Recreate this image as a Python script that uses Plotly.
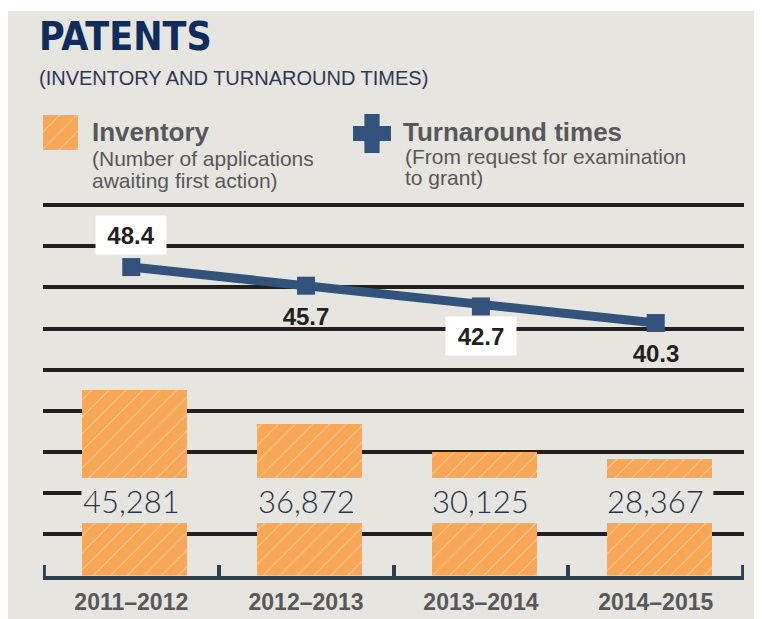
import plotly.graph_objects as go

# chart data
years = ["2011–2012", "2012–2013", "2013–2014", "2014–2015"]
inventory = [45281, 36872, 30125, 28367]
turnaround = [48.4, 45.7, 42.7, 40.3]
label_boxed = [True, False, True, False]
label_above = [True, False, False, False]

W, H = 762, 619
OFF = 8  # page margin around the plot div
BG = "#e6e5e0"
ORANGE = "#f8a756"
HATCH = "#fbc792"
NAVY = "#33537d"
AXIS = "#2b3e54"
GRID = "#231f20"
GREY = "#58585a"
TITLE = "#0f2d5c"
SANS = "Liberation Sans, Arial, sans-serif"
COND = "DejaVu Sans Condensed, Liberation Sans, sans-serif"


def fx(p):
    return (p - OFF) / W


def fy(p):
    return 1 - (p - OFF) / H


pattern = dict(shape="/", bgcolor=ORANGE, fgcolor=HATCH, size=12, solidity=0.1, fillmode="replace")

fig = go.Figure()
fig.add_bar(x=years, y=inventory, width=0.6, offset=-0.28,
            marker=dict(color=ORANGE, line_width=0, pattern=pattern),
            showlegend=False, hoverinfo="skip")
fig.add_scatter(x=years, y=turnaround, yaxis="y2", mode="lines+markers",
                line=dict(color=NAVY, width=9), marker=dict(symbol="square", size=18, color=NAVY),
                showlegend=False, hoverinfo="skip")

# legend swatches on their own small axes
fig.add_bar(x=[0], y=[1], width=1, xaxis="x3", yaxis="y3", showlegend=False, hoverinfo="skip",
            marker=dict(color=ORANGE, line_width=0, pattern=pattern))
fig.add_scatter(x=[0], y=[0], xaxis="x4", yaxis="y4", mode="markers", showlegend=False, hoverinfo="skip",
                marker=dict(symbol="cross", size=38, color=NAVY))

ymax = 95000
y_bot, y_top = 575.5, 184.5
per = (y_bot - y_top) / ymax


def band_val(p):
    return (y_bot - p) / per


shapes = [
    dict(type="rect", xref="paper", yref="paper", x0=0, x1=1, y0=0, y1=fy(11),
         fillcolor=BG, line_width=0, layer="below"),
    dict(type="rect", xref="x", yref="y", x0=-0.285, x1=3.33, y0=band_val(523), y1=band_val(478),
         fillcolor=BG, line_width=0, layer="above"),
]
# end ticks of the category axis
for xb in (-0.5, 3.5):
    shapes.append(dict(type="line", xref="x", yref="paper", x0=xb, x1=xb, y0=fy(577), y1=fy(565),
                       line=dict(color=AXIS, width=4), layer="above"))


def text(t, x, y, size, color, family=SANS, anchor="left"):
    return dict(text=t, x=fx(x), y=fy(y), xref="paper", yref="paper", xanchor=anchor,
                yanchor="middle", showarrow=False, font=dict(family=family, size=size, color=color))


annotations = [
    text("<b>PATENTS</b>", 37, 36, 39, TITLE, family=COND),
    text("(INVENTORY AND TURNAROUND TIMES)", 37, 78, 20, "#2f3754"),
    text("<b>Inventory</b>", 90, 132, 26, GREY),
    text("(Number of applications", 90, 158, 21, GREY),
    text("awaiting first action)", 90, 180, 21, GREY),
    text("<b>Turnaround times</b>", 401, 132, 26, GREY),
    text("(From request for examination", 403, 157, 21, GREY),
    text("to grant)", 403, 178, 21, GREY),
]

for yr, v in zip(years, inventory):
    annotations.append(dict(text=f"{v:,}", x=yr, y=band_val(501), xref="x", yref="y", showarrow=False,
                            font=dict(family="Lato, sans-serif", size=31, color="#26354a", weight=300)))

for yr, v, boxed, above in zip(years, turnaround, label_boxed, label_above):
    annotations.append(dict(text=f"<b>{v}</b>", x=yr, y=v, xref="x", yref="y2", showarrow=False,
                            yshift=32 if above else -30, width=66, height=34, borderpad=2,
                            bgcolor="white" if boxed else "rgba(0,0,0,0)",
                            font=dict(family=SANS, size=24, color=GRID)))

fig.update_layout(
    width=W, height=H,
    margin=dict(l=0, r=0, t=0, b=0),
    paper_bgcolor="white",
    plot_bgcolor="rgba(0,0,0,0)",
    showlegend=False,
    bargap=0,
    shapes=shapes,
    annotations=annotations,
    xaxis=dict(type="category", domain=[fx(43), fx(744)], range=[-0.505, 3.505], anchor="y",
               showline=True, linecolor=AXIS, linewidth=4, ticks="inside", tickson="boundaries",
               ticklen=11, tickwidth=4, tickcolor=AXIS, showgrid=False, fixedrange=True,
               ticklabelstandoff=3,
               tickfont=dict(family=SANS, size=23, color=GREY, weight="bold")),
    yaxis=dict(domain=[fy(y_bot), fy(y_top)], range=[0, ymax], tick0=0, dtick=10000,
               showgrid=True, gridcolor=GRID, gridwidth=4, zeroline=False, showline=False,
               showticklabels=False, ticks=""),
    yaxis2=dict(overlaying="y", range=[3.76, 60.35], visible=False),
    xaxis3=dict(domain=[fx(43), fx(78)], range=[-0.5, 0.5], visible=False, anchor="y3"),
    yaxis3=dict(domain=[fy(150), fy(115)], range=[0, 1], visible=False, anchor="x3"),
    xaxis4=dict(domain=[fx(353), fx(391)], range=[-1, 1], visible=False, anchor="y4"),
    yaxis4=dict(domain=[fy(153), fy(114)], range=[-1, 1], visible=False, anchor="x4"),
)

fig.write_html("out.html")
